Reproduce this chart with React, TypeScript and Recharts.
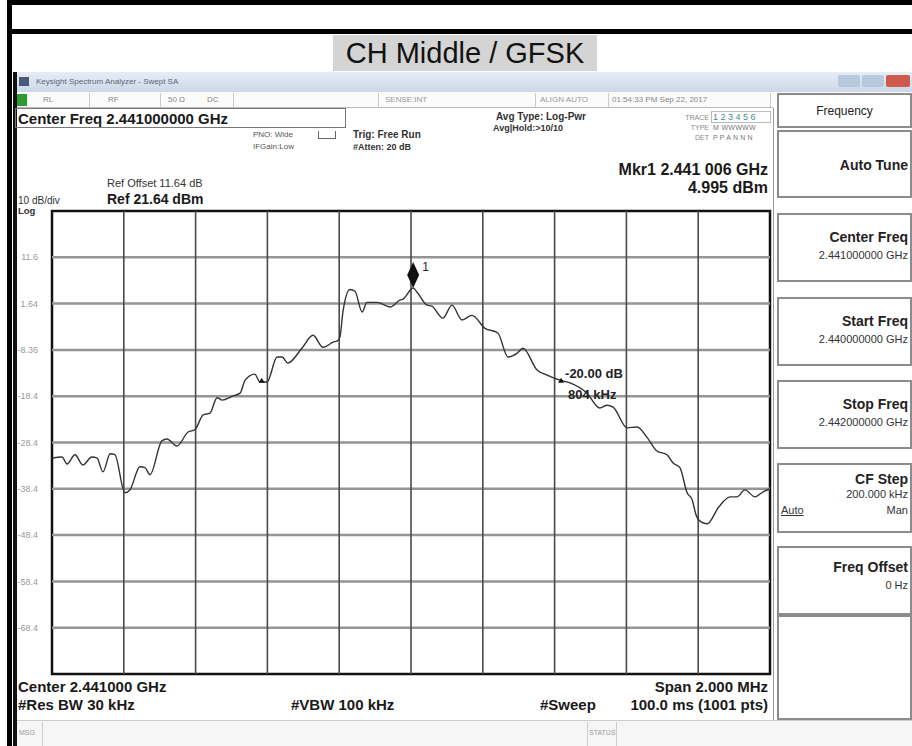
import React from "react";
import { LineChart, Line, XAxis, YAxis, ReferenceLine, ReferenceArea, ReferenceDot } from "recharts";

// trace, frequency offset from 2.441 GHz centre in kHz, level in dBm
const freqKHz = [
  -999, -972, -958, -936, -914, -889, -875, -858, -838, -825, -797, -783, -755, -741, -727, -694, -680, -652,
  -621, -602, -579, -560, -540, -526, -496, -476, -462, -435, -421, -401, -373, -359, -343, -304, -273, -245,
  -217, -203, -198, -189, -170, -156, -136, -123, -95, -58, -31, -22, 6, 17, 45, 58, 89, 114, 142, 170, 206,
  242, 270, 295, 312, 351, 379, 415, 443, 490, 526, 546, 563, 602, 630, 657, 685, 713, 730, 749, 769, 783, 794,
  808, 825, 858, 889, 908, 930, 958, 981, 999,
];
const levelDbm = [
  -31.7, -31.5, -33.0, -31.0, -33.2, -31.5, -31.7, -34.7, -30.8, -31.0, -39.2, -38.6, -33.6, -33.8, -35.3, -28.0,
  -27.6, -29.1, -26.1, -25.6, -22.4, -22.0, -18.7, -19.2, -18.3, -17.7, -14.9, -13.6, -15.3, -15.3, -9.9, -9.9,
  -11.2, -8.0, -5.2, -7.8, -6.7, -6.3, -5.6, 0.2, 4.7, 4.3, -0.2, 1.9, 1.9, 0.9, 2.4, 2.6, 4.995, 4.1, 1.3, 1.1,
  -1.5, 1.3, -1.9, -0.9, -3.7, -4.7, -9.9, -9.1, -8.0, -12.7, -13.8, -14.9, -15.5, -17.7, -20.9, -20.3, -20.7,
  -25.2, -25.0, -27.2, -30.2, -31.0, -32.8, -33.8, -39.2, -40.7, -44.0, -45.5, -45.9, -42.2, -40.1, -40.1, -38.6,
  -40.1, -39.0, -38.4,
];

const gridX = [-800, -600, -400, -200, 0, 200, 400, 600, 800];
const gridY = [11.64, 1.64, -8.36, -18.36, -28.36, -38.36, -48.36, -58.36, -68.36];
const yTickLabels = ["11.6", "1.64", "-8.36", "-18.4", "-28.4", "-38.4", "-48.4", "-58.4", "-68.4"];
const refLevel = 21.64;
const bottomLevel = -78.36;
const marker1 = { f: 6, v: 4.995 };
const ndbMarkers = [
  { f: -416, v: -15.0 },
  { f: 418, v: -15.0 },
];

const softKeys = [
  { title: "Center Freq", value: "2.441000000 GHz" },
  { title: "Start Freq", value: "2.440000000 GHz" },
  { title: "Stop Freq", value: "2.442000000 GHz" },
];

const data = freqKHz.map((f, i) => ({ f, v: levelDbm[i] }));

const FONT = '"Liberation Sans", Arial, sans-serif';

const T = ({ x, y, r, s = 11, b = false, c = "#222", children, style }: any) => (
  <div
    style={{
      position: "absolute",
      top: y,
      ...(r !== undefined ? { right: 912 - r } : { left: x }),
      fontSize: s,
      fontWeight: b ? 700 : 400,
      color: c,
      whiteSpace: "nowrap",
      lineHeight: 1,
      fontFamily: FONT,
      ...style,
    }}
  >
    {children}
  </div>
);

const Box = ({ x, y, w, h, style }: any) => (
  <div style={{ position: "absolute", left: x, top: y, width: w, height: h, boxSizing: "border-box", ...style }} />
);

const Diamond = (props: any) => {
  const { cx, cy } = props;
  return (
    <g>
      <path d={`M${cx},${cy} L${cx - 6},${cy - 13} L${cx},${cy - 26} L${cx + 6},${cy - 13} Z`} fill="#111" />
      <text x={cx + 9} y={cy - 17} fontSize={12} fontFamily={FONT} fill="#222">
        1
      </text>
    </g>
  );
};

const NdbDot = (props: any) => {
  const { cx, cy, withLabel } = props;
  return (
    <g>
      <path d={`M${cx - 3},${cy + 2} L${cx + 3},${cy + 2} L${cx},${cy - 3} Z`} fill="#111" />
      {withLabel && (
        <g fontFamily={FONT} fontWeight={700} fontSize={13} fill="#222">
          <text x={cx + 4} y={cy - 3}>-20.00 dB</text>
          <text x={cx + 7} y={cy + 18}>804 kHz</text>
        </g>
      )}
    </g>
  );
};

export default function App() {
  return (
    <div
      style={{
        position: "absolute",
        left: 0,
        top: 0,
        width: 912,
        height: 746,
        background: "#fff",
        overflow: "hidden",
        fontFamily: FONT,
      }}
    >
      {/* report table frame */}
      <Box x={7} y={0} w={905} h={5} style={{ background: "#000" }} />
      <Box x={7} y={29} w={905} h={5} style={{ background: "#000" }} />
      <Box x={7} y={0} w={5} h={746} style={{ background: "#000" }} />
      <Box x={333} y={35} w={264} h={36} style={{ background: "#d4d4d4" }} />
      <T x={333} y={39} s={29} c="#111" style={{ width: 264, textAlign: "center" }}>
        CH Middle / GFSK
      </T>

      {/* analyzer window */}
      <Box x={13} y={72} w={4} h={674} style={{ background: "#111" }} />
      <Box x={17} y={72} w={895} h={20} style={{ background: "linear-gradient(#e6edf6, #cbd8e8)" }} />
      <Box x={19} y={77} w={10} h={9} style={{ background: "#4a5a78" }} />
      <T x={36} y={78} s={8} c="#5a6478">
        Keysight Spectrum Analyzer - Swept SA
      </T>
      <Box x={838} y={75} w={22} h={12} style={{ background: "#b9c9dd", borderRadius: 2 }} />
      <Box x={862} y={75} w={22} h={12} style={{ background: "#b9c9dd", borderRadius: 2 }} />
      <Box x={886} y={75} w={24} h={12} style={{ background: "#cd5a4c", borderRadius: 2 }} />

      <Box x={17} y={92} w={756} h={16} style={{ borderBottom: "1px solid #bbb", background: "#fbfbfb" }} />
      <Box x={17} y={94} w={10} h={12} style={{ background: "#2c9a2c" }} />
      {[89, 160, 233, 378, 535, 608, 770].map((x) => (
        <Box key={x} x={x} y={93} w={1} h={14} style={{ background: "#ccc" }} />
      ))}
      <T x={43} y={96} s={8} c="#888">RL</T>
      <T x={108} y={96} s={8} c="#888">RF</T>
      <T x={168} y={96} s={8} c="#888">50 Ω</T>
      <T x={207} y={96} s={8} c="#888">DC</T>
      <T x={385} y={96} s={8} c="#999">SENSE:INT</T>
      <T x={540} y={96} s={8} c="#999">ALIGN AUTO</T>
      <T x={612} y={96} s={8} c="#888">01:54:33 PM Sep 22, 2017</T>

      {/* measurement header */}
      <Box x={15} y={108} w={331} h={20} style={{ border: "1px solid #777" }} />
      <T x={18} y={111} s={15} b c="#1a1a1a">Center Freq 2.441000000 GHz</T>
      <T x={253} y={131} s={8} c="#555">PNO: Wide</T>
      <T x={253} y={143} s={8} c="#555">IFGain:Low</T>
      <Box x={318} y={131} w={18} h={8} style={{ border: "1px solid #666", borderTop: "none" }} />
      <T x={353} y={130} s={10} c="#333" style={{ fontWeight: 600 }}>Trig: Free Run</T>
      <T x={353} y={143} s={9} c="#333" style={{ fontWeight: 600 }}>#Atten: 20 dB</T>
      <T x={496} y={112} s={10} c="#333" style={{ fontWeight: 600 }}>Avg Type: Log-Pwr</T>
      <T x={493} y={124} s={9} c="#333" style={{ fontWeight: 600 }}>Avg|Hold:&gt;10/10</T>

      <T r={709} y={114} s={7} c="#888">TRACE</T>
      <T r={709} y={124} s={7} c="#888">TYPE</T>
      <T r={709} y={134} s={7} c="#888">DET</T>
      <Box x={711} y={111} w={60} h={12} style={{ border: "1px solid #bbb" }} />
      <T x={713} y={113} s={9} c="#4a8a8a" style={{ letterSpacing: 2.5 }}>123456</T>
      <T x={713} y={124} s={7} c="#777" style={{ letterSpacing: 0.3 }}>M WWWWW</T>
      <T x={713} y={134} s={7} c="#777" style={{ letterSpacing: 2.2 }}>PPANNN</T>

      <T r={768} y={162} s={16} b c="#1a1a1a">Mkr1 2.441 006 GHz</T>
      <T r={768} y={180} s={16} b c="#1a1a1a">4.995 dBm</T>
      <T x={107} y={178} s={11} c="#333">Ref Offset 11.64 dB</T>
      <T x={107} y={192} s={14} b c="#1a1a1a">Ref 21.64 dBm</T>
      <T x={18} y={196} s={10} c="#333">10 dB/div</T>
      <T x={18} y={206} s={9.5} b c="#333">Log</T>

      <Box x={773} y={108} w={1} h={612} style={{ background: "#999" }} />

      {/* footer */}
      <T x={18} y={679} s={15} b c="#1a1a1a">Center 2.441000 GHz</T>
      <T x={18} y={697} s={15} b c="#1a1a1a">#Res BW 30 kHz</T>
      <T x={291} y={697} s={15} b c="#1a1a1a">#VBW 100 kHz</T>
      <T x={540} y={697} s={15} b c="#1a1a1a">#Sweep</T>
      <T r={768} y={697} s={15} b c="#1a1a1a">100.0 ms (1001 pts)</T>
      <T r={768} y={679} s={15} b c="#1a1a1a">Span 2.000 MHz</T>
      <Box x={17} y={720} w={895} h={26} style={{ background: "#f6f6f6", borderTop: "1px solid #ccc" }} />
      <Box x={42} y={722} w={1} h={24} style={{ background: "#ccc" }} />
      <Box x={587} y={722} w={1} h={24} style={{ background: "#ccc" }} />
      <Box x={616} y={722} w={1} h={24} style={{ background: "#ccc" }} />
      <T x={19} y={729} s={7} c="#999">MSG</T>
      <T x={589} y={729} s={7} c="#999">STATUS</T>

      {/* soft keys */}
      <Box x={777} y={93} w={135} h={35} style={{ border: "2px solid #8c8c8c", background: "#fff" }} />
      <T x={777} y={105} s={12} c="#222" style={{ width: 135, textAlign: "center" }}>Frequency</T>
      <Box x={777} y={130} w={135} h={68} style={{ border: "2px solid #8c8c8c" }} />
      <T r={908} y={158} s={14} b c="#222">Auto Tune</T>
      {softKeys.map((k, i) => (
        <React.Fragment key={k.title}>
          <Box x={777} y={213 + i * 83.5} w={135} h={69} style={{ border: "2px solid #8c8c8c" }} />
          <T r={908} y={230 + i * 83.5} s={14} b c="#222">{k.title}</T>
          <T r={908} y={250 + i * 83.5} s={11} c="#333">{k.value}</T>
        </React.Fragment>
      ))}
      <Box x={777} y={463} w={135} h={70} style={{ border: "2px solid #8c8c8c" }} />
      <T r={908} y={472} s={14} b c="#222">CF Step</T>
      <T r={908} y={489} s={11} c="#333">200.000 kHz</T>
      <T x={781} y={505} s={11} c="#333" style={{ textDecoration: "underline" }}>Auto</T>
      <T r={908} y={505} s={11} c="#333">Man</T>
      <Box x={777} y={546} w={135} h={69} style={{ border: "2px solid #8c8c8c" }} />
      <T r={908} y={560} s={14} b c="#222">Freq Offset</T>
      <T r={908} y={580} s={11} c="#333">0 Hz</T>
      <Box x={777} y={615} w={135} h={105} style={{ border: "2px solid #8c8c8c" }} />

      <div style={{ position: "absolute", left: 0, top: 0 }}>
        <LineChart width={912} height={746} data={data} margin={{ top: 211, right: 142, bottom: 72, left: 12 }}>
          <XAxis type="number" dataKey="f" domain={[-1000, 1000]} hide />
          <YAxis
            type="number"
            domain={[bottomLevel, refLevel]}
            ticks={gridY}
            tickFormatter={(v: number) => yTickLabels[gridY.indexOf(v)] ?? ""}
            width={40}
            axisLine={false}
            tickLine={false}
            tickMargin={8}
            tick={{ fontSize: 9, fill: "#9a9a9a", fontFamily: FONT }}
          />
          {gridY.map((y) => (
            <ReferenceLine key={"h" + y} y={y} stroke="#959595" strokeWidth={2.5} />
          ))}
          {gridX.map((x) => (
            <ReferenceLine key={"v" + x} x={x} stroke="#4a4a4a" strokeWidth={1.6} />
          ))}
          <ReferenceArea x1={-1000} x2={1000} y1={bottomLevel} y2={refLevel} fill="none" stroke="#111" strokeWidth={2.5} />
          <Line
            type="monotone"
            dataKey="v"
            stroke="#333"
            strokeWidth={1.4}
            dot={false}
            isAnimationActive={false}
          />
          <ReferenceDot x={marker1.f} y={marker1.v} r={0} shape={(p: any) => <Diamond {...p} />} />
          {ndbMarkers.map((m, i) => (
            <ReferenceDot key={i} x={m.f} y={m.v} r={0} shape={(p: any) => <NdbDot {...p} withLabel={i === 1} />} />
          ))}
        </LineChart>
      </div>
    </div>
  );
}
